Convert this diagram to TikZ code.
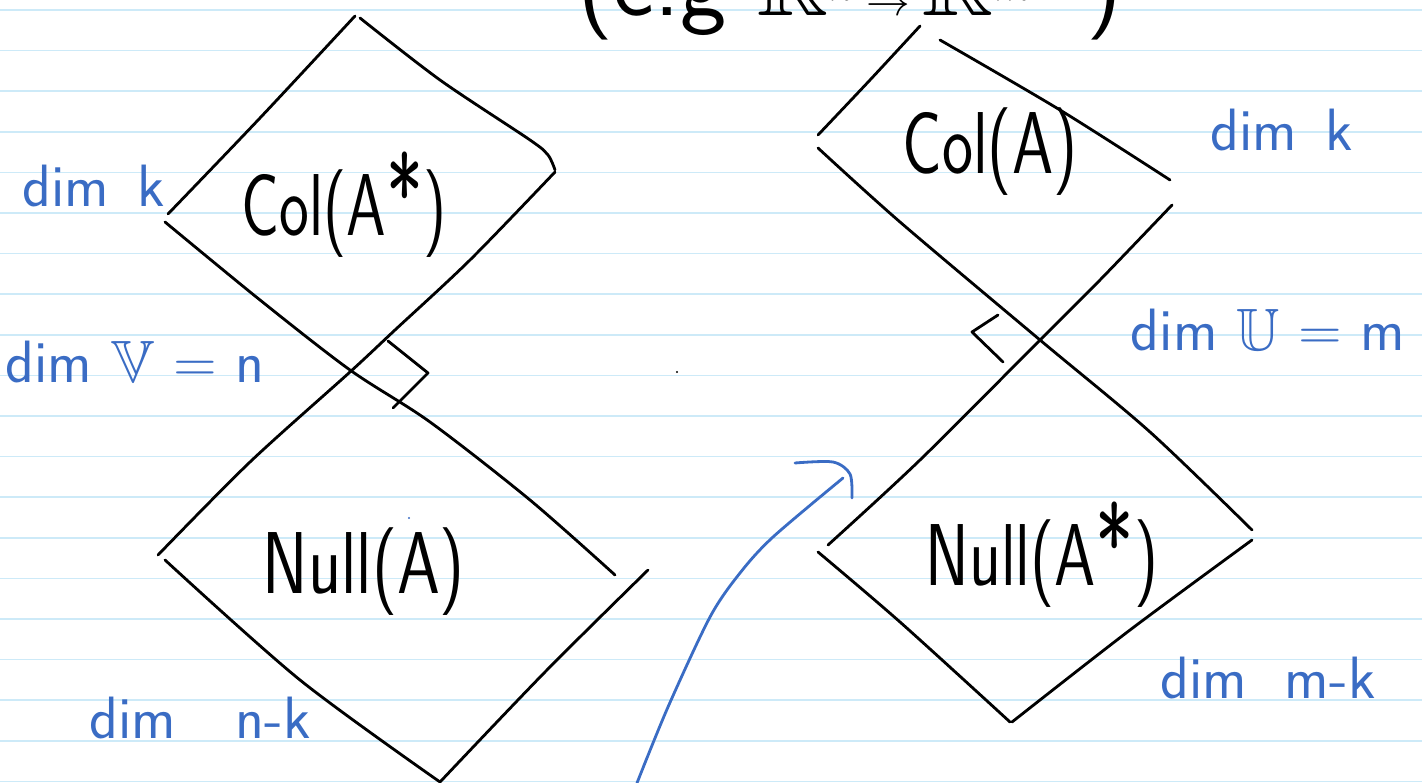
\documentclass[tikz,border=0pt]{standalone}
\usepackage{amssymb}
\usepackage{graphicx}
\definecolor{inkblue}{RGB}{58,108,196}
\definecolor{ruleblue}{RGB}{205,234,248}
\newcommand{\adjstar}{\raisebox{0.02em}{\fontsize{62}{62}\selectfont *}}
\begin{document}
\begin{tikzpicture}[x=0.02cm,y=0.02cm,
    ink/.style={line width=1.6pt,line cap=round,line join=round},
    blueink/.style={ink,draw=inkblue},
    bigtxt/.style={font=\sffamily\fontsize{50}{50}\selectfont,inner sep=0pt},
    bluetxt/.style={font=\sffamily\fontsize{34}{34}\selectfont,text=inkblue,inner sep=0pt}]
  \useasboundingbox (0,0) rectangle (1422,-783);
  \clip (0,0) rectangle (1422,-783);
  % ruled paper
  \foreach \k in {0,...,19}
    \draw[ruleblue,line width=0.9pt] (0,-10-40.6*\k) -- (1422,-10-40.6*\k);
  % text cut at the top
  \node[font=\sffamily\fontsize{56}{56}\selectfont,anchor=base,inner sep=0pt] (eg) at (850,-16)
    {(e.g $\mathbb{R}^n \to \mathbb{R}^m$\;\;)};
  % left pair
  \draw[ink] plot[smooth] coordinates {(168,-214) (260,-118) (355,-16)};
  \draw[ink] plot[smooth] coordinates {(360,-18) (440,-80) (530,-140) (548,-155) (555,-170)};
  \draw[ink] plot[smooth] coordinates {(555,-172) (470,-260) (395,-330) (350,-372) (250,-462) (158,-555)};
  \draw[ink] plot[smooth] coordinates {(165,-222) (260,-300) (350,-370) (430,-422) (530,-500) (615,-575)};
  \draw[ink] plot[smooth] coordinates {(165,-560) (300,-680) (440,-782)};
  \draw[ink] plot[smooth] coordinates {(648,-570) (545,-672) (440,-782)};
  \draw[ink] (388,-341) -- (428,-373) -- (393,-408);
  \node[bigtxt] (colAs) at (344,-205) {\scalebox{0.72}[1]{Col(A\adjstar)}};
  \node[bigtxt] (nullA) at (364,-572) {\scalebox{0.78}[1]{Null(A)}};
  % right pair
  \draw[ink] plot[smooth] coordinates {(818,-135) (870,-80) (920,-26)};
  \draw[ink] plot[smooth] coordinates {(940,-40) (1060,-110) (1170,-180)};
  \draw[ink] plot[smooth] coordinates {(818,-148) (900,-222) (1040,-340) (1150,-432) (1252,-530)};
  \draw[ink] plot[smooth] coordinates {(1172,-205) (1100,-280) (1040,-340) (920,-460) (828,-545)};
  \draw[ink] plot[smooth] coordinates {(818,-552) (900,-622) (1010,-722)};
  \draw[ink] plot[smooth] coordinates {(1252,-540) (1130,-630) (1012,-722)};
  \draw[ink] (998,-315) -- (972,-332) -- (1003,-362);
  \node[bigtxt] (colA) at (990,-152) {\scalebox{0.75}[1]{Col(A)}};
  \node[bigtxt] (nullAs) at (1042,-555) {\scalebox{0.75}[1]{Null(A\adjstar)}};
  % dimensions
  \node[bluetxt] (dk1) at (94,-186) {dim\, k};
  \node[bluetxt] (dV) at (135,-362) {dim $\mathbb{V}$ = n};
  \node[bluetxt] (dnk) at (200,-718) {dim\quad n-k};
  \node[bluetxt] (dk2) at (1282,-130) {dim\, k};
  \node[bluetxt] (dU) at (1268,-330) {dim $\mathbb{U}$ = m};
  \node[bluetxt] (dmk) at (1268,-678) {dim\ \ m-k};
  % arrow
  \coordinate (tail) at (637,-783);
  \coordinate (head) at (843,-478);
  \draw[blueink] plot[smooth] coordinates {(tail) (668,-707) (710,-617) (740,-573) (773,-537) (head)};
  \draw[blueink] plot[smooth] coordinates {(795,-463) (833,-462) (850,-474) (852,-498)};
  \fill (677,-372) circle (1.2);
  \fill[inkblue] (409,-518) circle (1.2);
\end{tikzpicture}
\end{document}
